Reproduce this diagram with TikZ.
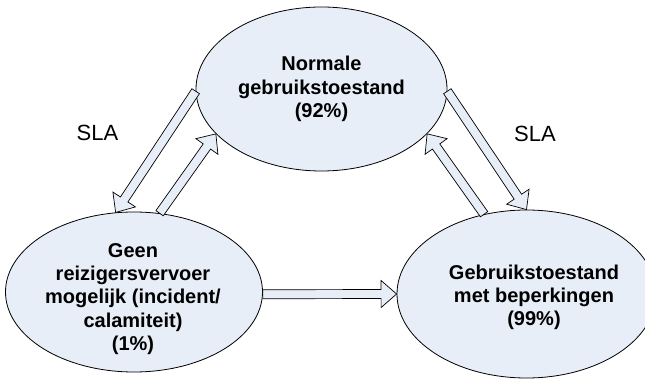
\documentclass[tikz,border=0pt]{standalone}
\usepackage{fontspec}
\setmainfont{Liberation Sans}
\usetikzlibrary{shapes.geometric,calc}
\definecolor{statefill}{RGB}{232,238,248}
\tikzset{
  state/.style={ellipse, draw=black, line width=0.8pt, fill=statefill, inner sep=0pt},
  statetext/.style={font=\bfseries\fontsize{20}{23.3}\selectfont, align=center, inner sep=0pt},
  slatext/.style={font=\fontsize{22}{26}\selectfont, inner sep=0pt},
  arrowbody/.style={draw=black, line width=0.7pt, fill=statefill, line join=miter},
}
% hollow block arrow from #1 (tail) to #2 (tip)
\newcommand\shaftw{4.5pt}
\newcommand\headw{13.5pt}
\newcommand\headl{15.5pt}
\newcommand\blockarrow[2]{%
  \coordinate (ba-h) at ($(#2)!\headl!(#1)$);
  \filldraw[arrowbody]
    ($(#1)!\shaftw!90:(#2)$) --
    ($(ba-h)!\shaftw!-90:(#1)$) --
    ($(ba-h)!\headw!-90:(#1)$) --
    (#2) --
    ($(ba-h)!\headw!90:(#1)$) --
    ($(ba-h)!\shaftw!90:(#1)$) --
    ($(#1)!\shaftw!-90:(#2)$) -- cycle;}
\begin{document}
\begin{tikzpicture}[x=1pt,y=-1pt]
\useasboundingbox (0,0) rectangle (645,379);
\clip (0,0) rectangle (645,379);

% the three states
\node[state, minimum width=251pt, minimum height=164pt] (normal) at (321.5,89) {};
\node[state, minimum width=257pt, minimum height=160pt] (outage) at (134,292) {};
\node[state, minimum width=259pt, minimum height=168pt] (limited) at (526.5,294) {};

\node[statetext] (normaltext) at (321.5,89) {Normale\\gebruikstoestand\\(92\%)};
\node[statetext] (outagetext) at (133,299) {Geen\\reizigersvervoer\\mogelijk (incident/\\calamiteit)\\(1\%)};
\node[statetext] (limitedtext) at (534,297.5) {Gebruikstoestand\\met beperkingen\\(99\%)};

\node[slatext] (slaleft) at (97.5,133) {SLA};
\node[slatext] (slaright) at (535,133.5) {SLA};

% transitions
\blockarrow{normal.181.4}{outage.103.5}
\blockarrow{outage.72}{normal.203.8}
\blockarrow{normal.359}{limited.90}
\blockarrow{limited.118.3}{normal.337}
\blockarrow{outage.359}{limited.180}
\end{tikzpicture}
\end{document}
